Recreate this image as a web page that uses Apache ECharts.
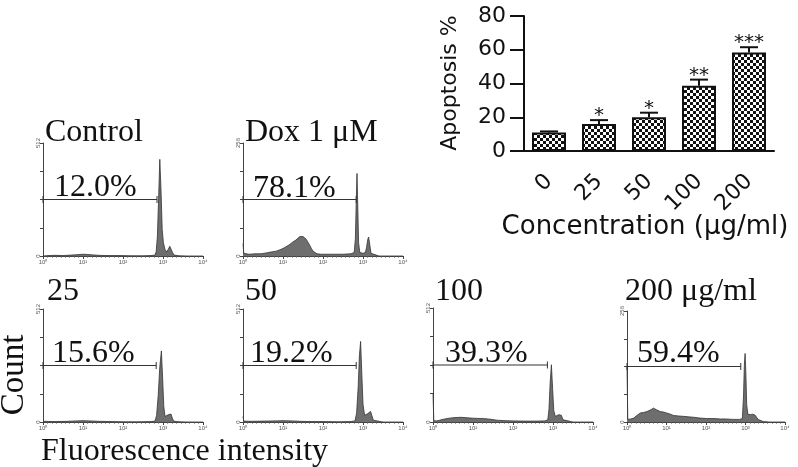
<!DOCTYPE html>
<html><head><meta charset="utf-8">
<script src="https://cdn.jsdelivr.net/npm/echarts@6/dist/echarts.min.js"></script>
<style>html,body{margin:0;padding:0;background:#fff}#c{width:798px;height:467px}</style>
</head><body><div id="c"></div>
<script>
// ---- Bar chart data ----
const barCategories = ['0', '25', '50', '100', '200'];
const apoptosisMean = [11, 16, 20, 38.7, 58.3];
const apoptosisSem = [0.6, 2.3, 2.7, 3.6, 3.2];
const significance = ['', '*', '*', '**', '***'];

// ---- Histogram panels ----
const panelTitles = ['Control', 'Dox 1 μM', '25', '50', '100', '200 μg/ml'];
const panelPercents = ['12.0%', '78.1%', '15.6%', '19.2%', '39.3%', '59.4%'];
const panelYMax = [512, 256, 512, 512, 512, 256];
const markerEnd = [2.85, 2.83, 2.83, 2.83, 2.86, 2.88]; // in decades
const decadeLabels = ['10⁰', '10¹', '10²', '10³', '10⁴'];

// [decade (log10 fluorescence), count]
const histControl = [[0,0],[0.03,4],[0.15,2],[0.3,3],[0.5,2],[0.7,4],[0.85,6],[1.0,8],[1.1,7],[1.25,5],[1.4,3],[1.6,2],[1.9,2],[2.2,1],[2.5,1],[2.7,2],[2.8,4],[2.83,20],[2.86,90],[2.89,260],[2.92,438],[2.95,300],[2.98,120],[3.01,60],[3.05,30],[3.09,18],[3.13,30],[3.17,44],[3.2,40],[3.24,15],[3.28,4],[3.4,1],[3.6,0],[4,0]];
const histDox = [[0,28],[0.02,6],[0.15,4],[0.3,5],[0.45,5],[0.58,7],[0.7,9],[0.83,11],[0.95,15],[1.04,19],[1.15,25],[1.25,32],[1.32,36],[1.37,40],[1.42,44],[1.46,48],[1.5,44],[1.54,43],[1.58,38],[1.62,32],[1.67,24],[1.71,17],[1.75,11],[1.79,7],[1.85,5],[1.95,4],[2.2,4],[2.5,4],[2.7,5],[2.78,8],[2.81,40],[2.83,120],[2.85,187],[2.87,110],[2.89,30],[2.92,8],[3.0,6],[3.06,8],[3.09,20],[3.12,38],[3.14,43],[3.17,25],[3.2,6],[3.25,2],[3.4,0],[4,0]];
const hist25 = [[0,3],[0.05,2],[0.3,2],[0.6,3],[0.85,5],[1.0,6],[1.15,5],[1.4,3],[1.7,2],[2.0,1],[2.4,1],[2.7,2],[2.8,4],[2.84,30],[2.88,120],[2.92,250],[2.96,322],[2.99,200],[3.02,70],[3.05,25],[3.09,22],[3.13,33],[3.17,41],[3.2,36],[3.24,14],[3.28,3],[3.4,1],[3.6,0],[4,0]];
const hist50 = [[0,25],[0.02,4],[0.2,3],[0.5,4],[0.8,5],[1.0,6],[1.2,5],[1.45,3],[1.7,2],[2.0,2],[2.4,1],[2.7,2],[2.8,5],[2.84,40],[2.88,160],[2.91,300],[2.94,365],[2.97,220],[3.0,80],[3.04,30],[3.08,28],[3.12,38],[3.16,46],[3.19,48],[3.22,30],[3.26,8],[3.3,2],[3.5,0],[4,0]];
const hist100 = [[0,130],[0.02,6],[0.1,5],[0.25,12],[0.4,17],[0.55,20],[0.7,21],[0.85,19],[1.0,17],[1.15,16],[1.3,15],[1.45,12],[1.6,8],[1.8,6],[2.0,5],[2.3,4],[2.6,4],[2.8,5],[2.87,10],[2.9,60],[2.93,180],[2.96,257],[2.99,150],[3.02,50],[3.06,25],[3.1,26],[3.14,33],[3.18,37],[3.21,30],[3.25,10],[3.3,2],[3.5,0],[4,0]];
const hist200 = [[0,128],[0.02,6],[0.1,7],[0.17,9],[0.25,15],[0.34,21],[0.42,22],[0.5,24],[0.58,27],[0.67,32],[0.75,28],[0.84,24],[0.92,23],[1.0,21],[1.1,18],[1.18,15],[1.3,14],[1.43,13],[1.55,12],[1.68,11],[1.85,9],[2.02,8],[2.2,8],[2.36,7],[2.5,7],[2.69,6],[2.85,6],[2.92,8],[2.95,60],[2.97,130],[2.99,158],[3.01,110],[3.03,40],[3.06,18],[3.12,17],[3.18,18],[3.24,16],[3.28,15],[3.32,6],[3.37,2],[3.45,1],[3.6,0],[4,0]];
const histograms = [histControl, histDox, hist25, hist50, hist100, hist200];

// ---- layout ----
const histGrids = [
  {left: 43, top: 143, width: 160, height: 113},
  {left: 243, top: 143, width: 160, height: 113},
  {left: 43, top: 309, width: 160, height: 113},
  {left: 243, top: 309, width: 160, height: 113},
  {left: 433, top: 308, width: 160, height: 114},
  {left: 627, top: 311, width: 158, height: 111}
];
const titlePos = [[45,133],[245,133],[47,292],[245,292],[435,292],[625,292]];
const pctPos = [[54,188],[253,189],[52,354],[250,354],[445,354],[637,354]];

const pc = document.createElement('canvas');
pc.width = 6; pc.height = 6;
const g = pc.getContext('2d');
g.fillStyle = '#fff'; g.fillRect(0, 0, 6, 6);
g.fillStyle = '#111'; g.fillRect(0, 0, 3, 3); g.fillRect(3, 3, 3, 3);

const serif = '"Liberation Serif", "Times New Roman", serif';
const sans = '"DejaVu Sans", sans-serif';

const grids = [{left: 524, top: 16, width: 250, height: 135}].concat(histGrids);
const xAxes = [{
  gridIndex: 0, type: 'category', data: barCategories, boundaryGap: true,
  axisLine: {lineStyle: {color: '#111', width: 2}},
  axisTick: {alignWithLabel: true, length: 10, lineStyle: {width: 2, color: '#111'}},
  axisLabel: {rotate: 45, fontFamily: sans, fontSize: 22, color: '#111', margin: 27}
}];
const yAxes = [{
  gridIndex: 0, type: 'value', min: 0, max: 80, interval: 20,
  axisLine: {show: true, lineStyle: {color: '#111', width: 2}},
  axisTick: {show: true, length: 14, lineStyle: {width: 2, color: '#111'}},
  axisLabel: {fontFamily: sans, fontSize: 22, color: '#111', margin: 18},
  splitLine: {show: false}
}];
const series = [
  {type: 'bar', xAxisIndex: 0, yAxisIndex: 0, data: apoptosisMean, barWidth: 34,
   itemStyle: {color: {image: pc, repeat: 'repeat'}, borderColor: '#111', borderWidth: 2}},
  {type: 'custom', xAxisIndex: 0, yAxisIndex: 0, z: 5,
   data: apoptosisMean.map((m, i) => [i, m, apoptosisSem[i]]),
   encode: {x: 0, y: 1},
   renderItem: function (params, api) {
     const i = api.value(0), m = api.value(1), e = api.value(2);
     const base = api.coord([i, m]);
     const top = api.coord([i, m + e]);
     const hw = 9;
     const ch = [
       {type: 'line', shape: {x1: base[0], y1: base[1], x2: top[0], y2: top[1]}, style: {stroke: '#111', lineWidth: 2}},
       {type: 'line', shape: {x1: top[0] - hw, y1: top[1], x2: top[0] + hw, y2: top[1]}, style: {stroke: '#111', lineWidth: 2}}
     ];
     const s = significance[i];
     if (s) ch.push({type: 'text', x: top[0], y: top[1] - 4, style: {text: s, font: '20px ' + sans, fill: '#111', align: 'center', verticalAlign: 'middle'}});
     return {type: 'group', children: ch};
   }}
];

histograms.forEach((h, k) => {
  const gi = k + 1;
  const ymax = panelYMax[k];
  xAxes.push({
    gridIndex: gi, type: 'value', min: 0, max: 4, interval: 1,
    axisLine: {lineStyle: {color: '#444', width: 1}},
    axisTick: {length: 3, lineStyle: {color: '#444', width: 1}},
    minorTick: {show: true, splitNumber: 9, length: 2, lineStyle: {color: '#666', width: 0.6}},
    axisLabel: {fontSize: 6, color: '#555', margin: 3, formatter: v => decadeLabels[Math.round(v)]},
    splitLine: {show: false}
  });
  yAxes.push({
    gridIndex: gi, type: 'value', min: 0, max: ymax, interval: ymax / 4,
    axisLine: {show: true, lineStyle: {color: '#444', width: 1}},
    axisTick: {show: true, length: 3, lineStyle: {color: '#444', width: 1}},
    axisLabel: {fontSize: 6, color: '#555', margin: 2, rotate: 90, showMinLabel: true, showMaxLabel: true,
      formatter: v => (v === 0 || v === ymax) ? String(v) : ''},
    splitLine: {show: false}
  });
  series.push({
    type: 'line', xAxisIndex: gi, yAxisIndex: gi, data: h, symbol: 'none', smooth: false,
    lineStyle: {color: '#333', width: 0.8},
    areaStyle: {color: '#6e6e6e', opacity: 1}
  });
  series.push({
    type: 'line', xAxisIndex: gi, yAxisIndex: gi, z: 4,
    data: [[0, ymax / 2], [markerEnd[k], ymax / 2]],
    symbol: 'rect', symbolSize: [1, 7], showSymbol: true,
    itemStyle: {color: '#333'}, lineStyle: {color: '#333', width: 1}
  });
});

const graphic = [];
panelTitles.forEach((t, k) => {
  graphic.push({type: 'text', x: titlePos[k][0], y: titlePos[k][1],
    style: {text: t, font: '32px ' + serif, fill: '#111', align: 'left', verticalAlign: 'middle'}});
  graphic.push({type: 'text', x: pctPos[k][0], y: pctPos[k][1],
    style: {text: panelPercents[k], font: '32px ' + serif, fill: '#111', align: 'left', verticalAlign: 'middle'}});
});
graphic.push({type: 'text', x: 14, y: 375, rotation: Math.PI / 2,
  style: {text: 'Count', font: '33px ' + serif, fill: '#111', align: 'center', verticalAlign: 'middle'}});
graphic.push({type: 'text', x: 41, y: 452,
  style: {text: 'Fluorescence intensity', font: '32px ' + serif, fill: '#111', align: 'left', verticalAlign: 'middle'}});
graphic.push({type: 'text', x: 450, y: 83, rotation: Math.PI / 2,
  style: {text: 'Apoptosis %', font: '22px ' + sans, fill: '#111', align: 'center', verticalAlign: 'middle'}});
graphic.push({type: 'text', x: 645, y: 227,
  style: {text: 'Concentration (μg/ml)', font: '26px ' + sans, fill: '#111', align: 'center', verticalAlign: 'middle'}});

const chart = echarts.init(document.getElementById('c'));
chart.setOption({
  backgroundColor: '#fff',
  animation: false,
  grid: grids,
  xAxis: xAxes,
  yAxis: yAxes,
  series: series,
  graphic: graphic
});
</script></body></html>
